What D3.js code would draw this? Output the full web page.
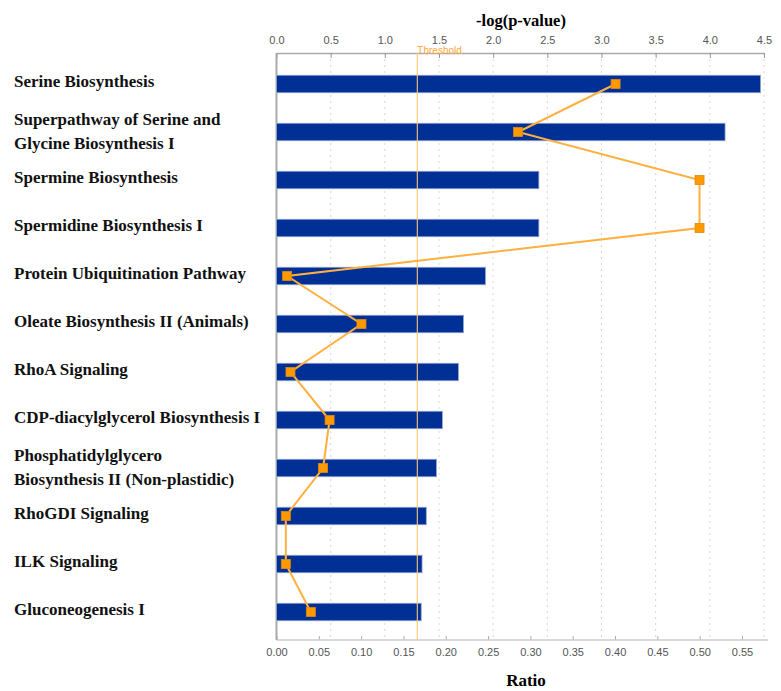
<!DOCTYPE html>
<html>
<head>
<meta charset="utf-8">
<script src="https://cdn.jsdelivr.net/npm/d3@7"></script>
<style>
  body { margin: 0; background: #fff; }
  svg { display: block; }
</style>
</head>
<body>
<script>
// pathway names (\n = line break in label)
const pathways = [
  "Serine Biosynthesis",
  "Superpathway of Serine and\nGlycine Biosynthesis I",
  "Spermine Biosynthesis",
  "Spermidine Biosynthesis I",
  "Protein Ubiquitination Pathway",
  "Oleate Biosynthesis II (Animals)",
  "RhoA Signaling",
  "CDP-diacylglycerol Biosynthesis I",
  "Phosphatidylglycero\nBiosynthesis II (Non-plastidic)",
  "RhoGDI Signaling",
  "ILK Signaling",
  "Gluconeogenesis I"
];
const ratios = [0.572, 0.530, 0.310, 0.310, 0.247, 0.221, 0.215, 0.196, 0.189, 0.177, 0.172, 0.171];
const logP = [3.13, 2.23, 3.905, 3.905, 0.098, 0.784, 0.129, 0.49, 0.43, 0.086, 0.086, 0.317];
const threshold = 1.3;
const pTicks = [0, 0.5, 1.0, 1.5, 2.0, 2.5, 3.0, 3.5, 4.0, 4.5];
const ratioTicks = [0, 0.05, 0.10, 0.15, 0.20, 0.25, 0.30, 0.35, 0.40, 0.45, 0.50, 0.55];

const width = 781, height = 691;
const plotL = 276.5, plotR = 764, plotT = 53, plotB = 640;

const svg = d3.select("body").append("svg")
  .attr("width", width).attr("height", height);

const x = d3.scaleLinear().domain([0, 4.5]).range([plotL, plotR]);
const xr = d3.scaleLinear().domain([0, 0.55]).range([plotL, 742]);
const y = d3.scaleBand().domain(d3.range(pathways.length))
  .range([60, 636]).paddingInner(0.635).paddingOuter(0.3175);

// grid lines
svg.append("g")
  .selectAll("line")
  .data(pTicks.slice(1))
  .join("line")
  .attr("x1", d => x(d)).attr("x2", d => x(d))
  .attr("y1", plotT).attr("y2", plotB)
  .attr("stroke", "#d6d6d6")
  .attr("stroke-dasharray", "2,4");

// top axis
const topAxis = svg.append("g")
  .attr("transform", `translate(0,${plotT})`)
  .call(d3.axisTop(x).tickValues(pTicks).tickFormat(d3.format(".1f")).tickSizeInner(-5).tickSizeOuter(0).tickPadding(9));
topAxis.select(".domain").attr("stroke", "#aaa").attr("stroke-width", 1.5);
topAxis.selectAll(".tick line").attr("stroke", "#999");
topAxis.selectAll("text").attr("fill", "#555").attr("font-family", "Liberation Sans, Arial").attr("font-size", 11);

// bottom axis
const botAxis = svg.append("g")
  .attr("transform", `translate(0,${plotB})`)
  .call(d3.axisBottom(xr).tickValues(ratioTicks).tickFormat(d3.format(".2f")).tickSizeInner(-4).tickSizeOuter(0).tickPadding(8));
botAxis.select(".domain").remove();
botAxis.append("line").attr("x1", plotL).attr("x2", plotR + 4).attr("stroke", "#ccc").attr("stroke-width", 1.5);
botAxis.selectAll(".tick line").attr("stroke", "#aaa");
botAxis.selectAll("text").attr("fill", "#555").attr("font-family", "Liberation Sans, Arial").attr("font-size", 11);

// left axis line
svg.append("line")
  .attr("x1", plotL).attr("x2", plotL)
  .attr("y1", plotT).attr("y2", plotB)
  .attr("stroke", "#aaa").attr("stroke-width", 2);

// bars
svg.append("g")
  .selectAll("rect")
  .data(ratios)
  .join("rect")
  .attr("x", plotL)
  .attr("y", (d, i) => y(i))
  .attr("width", d => xr(d) - plotL)
  .attr("height", y.bandwidth())
  .attr("fill", "#003096")
  .attr("stroke", "#9aa8c8")
  .attr("stroke-width", 0.8);

// threshold
svg.append("line")
  .attr("x1", x(threshold)).attr("x2", x(threshold))
  .attr("y1", plotT).attr("y2", plotB)
  .attr("stroke", "#ffc674").attr("stroke-width", 1.2).attr("opacity", 0.9);
svg.append("text")
  .attr("x", x(threshold)).attr("y", 53.5)
  .attr("fill", "#ffa733")
  .attr("font-family", "Liberation Sans, Arial")
  .attr("font-size", 10)
  .text("Threshold");

// -log(p) line with square markers
const line = d3.line()
  .x(d => x(d))
  .y((d, i) => y(i) + y.bandwidth() / 2);
svg.append("path")
  .datum(logP)
  .attr("d", line)
  .attr("fill", "none")
  .attr("stroke", "#ffb040")
  .attr("stroke-width", 2);
svg.append("g")
  .selectAll("rect")
  .data(logP)
  .join("rect")
  .attr("x", d => x(d) - 4.5)
  .attr("y", (d, i) => y(i) + y.bandwidth() / 2 - 4.5)
  .attr("width", 9).attr("height", 9)
  .attr("fill", "#ff9900")
  .attr("stroke", "#e08a10")
  .attr("stroke-width", 0.8);

// category labels
const labels = svg.append("g")
  .selectAll("text")
  .data(pathways)
  .join("text")
  .attr("x", 14)
  .attr("y", (d, i) => y(i) + y.bandwidth() / 2)
  .attr("font-family", "Liberation Serif, Times New Roman, serif")
  .attr("font-weight", "bold")
  .attr("font-size", 17)
  .attr("fill", "#111");
labels.each(function(d) {
  const parts = d.split("\n");
  const t = d3.select(this);
  parts.forEach((p, k) => {
    t.append("tspan")
      .attr("x", 14)
      .attr("dy", k === 0 ? (parts.length === 1 ? "0.15em" : "-0.4em") : "1.4em")
      .text(p);
  });
});

// axis titles
svg.append("text")
  .attr("x", 521).attr("y", 26)
  .attr("text-anchor", "middle")
  .attr("font-family", "Liberation Serif, Times New Roman, serif")
  .attr("font-weight", "bold")
  .attr("font-size", 16.5)
  .text("-log(p-value)");
svg.append("text")
  .attr("x", 526).attr("y", 686)
  .attr("text-anchor", "middle")
  .attr("font-family", "Liberation Serif, Times New Roman, serif")
  .attr("font-weight", "bold")
  .attr("font-size", 17)
  .text("Ratio");
</script>
</body>
</html>
